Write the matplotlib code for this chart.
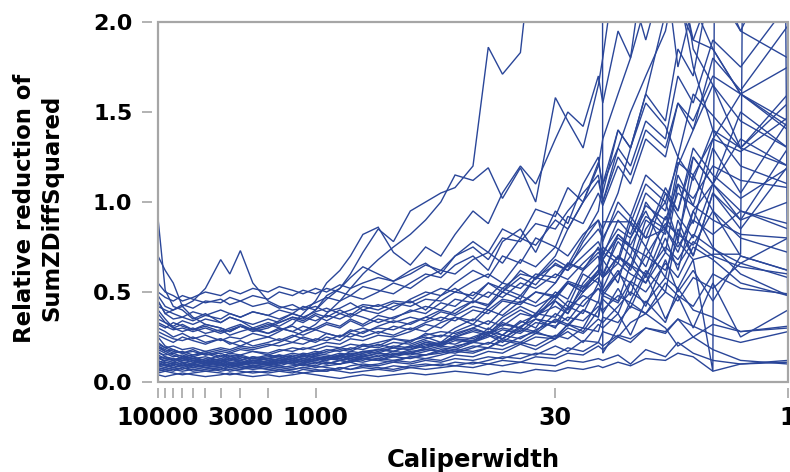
import matplotlib
matplotlib.use("Agg")
import matplotlib.pyplot as plt
from matplotlib.patches import Rectangle

caliperwidth = [10000, 9000, 8000, 7000, 6000, 5000, 4000, 3500, 3000, 2500, 2000,
                1700, 1400, 1200, 1000, 850, 700, 600, 500, 400, 320, 250,
                200, 160, 130, 100, 80, 65, 50, 40, 30, 25, 20,
                16, 15, 12, 10, 8, 6, 5, 4, 3, 2, 1]

major_ticks = [10000, 3000, 1000, 30, 1]
major_labels = ["10000", "3000", "1000", "30", "1"]
minor_ticks = [9000, 8000, 7000, 6000, 5000, 4000, 2000]
y_ticks = [0.0, 0.5, 1.0, 1.5, 2.0]

a01 = [0.12,0.10,0.09,0.11,0.08,0.09,0.10,0.08,0.09,0.11,0.10, 0.12,0.11,0.13,0.12,0.14,0.13,0.15,0.14,0.16,0.15,0.18, 0.20,0.22,0.21,0.25,0.28,0.24,0.31,0.35,0.30,0.42,0.38, 0.55,0.50,0.62,0.48,0.75,0.58,0.90,0.70,1.05,0.85,1.20]
a02 = [0.08,0.07,0.06,0.08,0.07,0.06,0.07,0.09,0.08,0.07,0.08, 0.09,0.08,0.10,0.09,0.11,0.10,0.12,0.11,0.13,0.12,0.14, 0.15,0.17,0.16,0.19,0.22,0.20,0.25,0.28,0.24,0.32,0.30, 0.45,0.38,0.52,0.41,0.60,0.35,0.48,0.30,0.55,0.25,0.40]
a03 = [0.15,0.13,0.12,0.14,0.12,0.11,0.13,0.12,0.14,0.13,0.15, 0.14,0.16,0.15,0.17,0.16,0.18,0.17,0.20,0.19,0.22,0.21, 0.24,0.26,0.25,0.29,0.27,0.33,0.30,0.38,0.45,0.40,0.52, 0.60,0.68,0.55,0.80,0.95,0.72,1.10,0.88,1.30,1.05,1.45]
a04 = [0.05,0.06,0.05,0.04,0.05,0.06,0.05,0.04,0.05,0.06,0.05, 0.06,0.05,0.07,0.06,0.06,0.08,0.07,0.08,0.07,0.09,0.08, 0.09,0.10,0.09,0.11,0.10,0.12,0.11,0.14,0.13,0.16,0.15, 0.20,0.18,0.25,0.22,0.30,0.28,0.35,0.25,0.18,0.12,0.10]
a05 = [0.18,0.16,0.14,0.15,0.13,0.14,0.12,0.13,0.11,0.12,0.13, 0.12,0.14,0.13,0.15,0.14,0.16,0.15,0.17,0.18,0.17,0.20, 0.19,0.22,0.24,0.23,0.27,0.30,0.28,0.35,0.33,0.41,0.48, 0.44,0.58,0.70,0.62,0.85,1.00,0.78,1.25,1.10,1.50,1.30]
a06 = [0.10,0.09,0.11,0.10,0.12,0.10,0.11,0.09,0.10,0.12,0.11, 0.10,0.12,0.11,0.10,0.13,0.12,0.14,0.13,0.12,0.15,0.16, 0.18,0.17,0.20,0.22,0.21,0.26,0.24,0.29,0.34,0.31,0.40, 0.36,0.50,0.45,0.65,0.55,0.80,0.62,0.95,0.75,0.60,0.48]
a07 = [0.22,0.19,0.17,0.16,0.18,0.15,0.16,0.14,0.15,0.13,0.14, 0.15,0.13,0.14,0.16,0.15,0.14,0.17,0.16,0.18,0.20,0.19, 0.22,0.21,0.25,0.24,0.28,0.26,0.33,0.37,0.42,0.38,0.50, 0.58,0.52,0.70,0.64,0.90,0.82,1.15,0.98,1.35,1.60,1.42]
a08 = [0.07,0.08,0.07,0.06,0.07,0.08,0.06,0.07,0.06,0.05,0.06, 0.07,0.06,0.05,0.06,0.07,0.06,0.05,0.06,0.07,0.06,0.08, 0.07,0.08,0.09,0.08,0.10,0.09,0.11,0.10,0.09,0.12,0.11, 0.13,0.12,0.15,0.10,0.18,0.14,0.22,0.16,0.12,0.10,0.11]
a09 = [0.13,0.12,0.11,0.13,0.14,0.12,0.15,0.13,0.12,0.14,0.12, 0.11,0.13,0.12,0.14,0.13,0.15,0.12,0.14,0.16,0.15,0.17, 0.18,0.20,0.19,0.23,0.26,0.22,0.29,0.27,0.35,0.32,0.28, 0.40,0.46,0.38,0.55,0.42,0.68,0.50,0.62,0.45,0.70,0.62]
a10 = [0.25,0.20,0.18,0.16,0.14,0.16,0.13,0.15,0.14,0.12,0.13, 0.14,0.12,0.15,0.13,0.14,0.12,0.13,0.15,0.14,0.17,0.16, 0.19,0.21,0.24,0.22,0.30,0.26,0.34,0.30,0.45,0.38,0.55, 0.65,0.60,0.78,0.70,1.00,0.85,1.20,1.40,1.65,1.30,1.55]
a11 = [0.09,0.10,0.08,0.09,0.10,0.09,0.08,0.10,0.09,0.08,0.09, 0.08,0.09,0.10,0.08,0.09,0.10,0.11,0.09,0.10,0.12,0.11, 0.13,0.12,0.15,0.14,0.17,0.16,0.21,0.18,0.24,0.28,0.22, 0.32,0.30,0.38,0.26,0.45,0.33,0.52,0.40,0.36,0.28,0.31]
a12 = [0.16,0.15,0.16,0.14,0.15,0.17,0.14,0.16,0.15,0.17,0.16, 0.18,0.17,0.19,0.18,0.20,0.19,0.21,0.20,0.22,0.24,0.23, 0.26,0.28,0.27,0.30,0.34,0.31,0.38,0.36,0.48,0.42,0.60, 0.55,0.72,0.66,0.88,0.75,1.05,0.92,0.80,1.10,0.95,0.85]
a13 = [0.04,0.03,0.04,0.05,0.04,0.03,0.04,0.05,0.04,0.03,0.04, 0.03,0.04,0.05,0.04,0.03,0.02,0.03,0.04,0.03,0.04,0.05, 0.04,0.05,0.06,0.05,0.04,0.06,0.05,0.07,0.06,0.08,0.07, 0.09,0.08,0.11,0.09,0.13,0.12,0.16,0.14,0.06,0.10,0.12]
a14 = [0.20,0.17,0.15,0.13,0.12,0.11,0.12,0.10,0.11,0.09,0.10, 0.11,0.10,0.12,0.11,0.10,0.12,0.11,0.13,0.12,0.14,0.13, 0.15,0.16,0.18,0.17,0.19,0.23,0.21,0.25,0.24,0.30,0.27, 0.35,0.33,0.42,0.50,0.44,0.58,0.52,0.68,0.06,40.0,0.15]
a15 = [0.11,0.12,0.13,0.11,0.10,0.12,0.11,0.13,0.12,0.10,0.12, 0.13,0.15,0.14,0.16,0.18,0.17,0.19,0.18,0.21,0.19,0.23, 0.25,0.22,0.28,0.32,0.29,0.36,0.42,0.38,0.50,0.46,0.62, 0.70,0.58,0.82,0.75,0.64,0.92,0.80,1.15,0.95,0.70,0.62]
a16 = [0.06,0.07,0.08,0.07,0.09,0.08,0.07,0.08,0.07,0.09,0.07, 0.08,0.07,0.08,0.09,0.08,0.07,0.09,0.10,0.09,0.11,0.10, 0.12,0.11,0.13,0.12,0.14,0.13,0.16,0.15,0.20,0.17,0.23, 0.22,0.28,0.25,0.33,0.38,0.30,0.20,0.25,0.32,0.28,0.30]
a17 = [0.14,0.11,0.10,0.09,0.10,0.08,0.09,0.10,0.08,0.09,0.10, 0.09,0.11,0.10,0.12,0.11,0.10,0.12,0.14,0.13,0.16,0.15, 0.17,0.19,0.18,0.22,0.26,0.24,0.30,0.28,0.38,0.34,0.45, 0.52,0.48,0.60,0.70,0.58,0.85,0.72,0.95,1.10,0.90,1.00]
a18 = [0.17,0.14,0.13,0.12,0.13,0.11,0.10,0.12,0.11,0.10,0.11, 0.13,0.12,0.11,0.13,0.12,0.14,0.13,0.12,0.15,0.14,0.16, 0.15,0.18,0.17,0.20,0.19,0.24,0.22,0.27,0.25,0.32,0.40, 0.36,0.48,0.44,0.56,0.50,0.66,0.58,0.75,0.68,0.55,0.48]
a19 = [0.09,0.08,0.10,0.09,0.08,0.10,0.09,0.11,0.10,0.09,0.10, 0.11,0.10,0.09,0.11,0.10,0.12,0.11,0.13,0.12,0.11,0.14, 0.13,0.15,0.17,0.16,0.19,0.18,0.22,0.20,0.26,0.24,0.30, 0.28,0.36,0.33,0.42,0.38,0.50,0.45,0.58,0.52,0.66,0.80]
a20 = [0.11,0.09,0.08,0.10,0.09,0.11,0.10,0.08,0.10,0.11,0.09, 0.10,0.12,0.11,0.13,0.12,0.15,0.14,0.16,0.18,0.17,0.20, 0.23,0.21,0.26,0.30,0.27,0.34,0.40,0.36,0.46,0.55,0.50, 0.62,0.75,0.68,0.92,0.80,1.08,0.95,1.30,1.15,1.02,1.19]
a21 = [0.13,0.14,0.12,0.13,0.11,0.13,0.12,0.14,0.13,0.11,0.13, 0.12,0.13,0.15,0.14,0.13,0.15,0.16,0.15,0.17,0.19,0.18, 0.21,0.20,0.23,0.22,0.25,0.29,0.27,0.33,0.31,0.36,0.34, 0.42,0.40,0.48,0.44,0.38,0.55,0.48,0.42,0.60,0.52,0.49]
a22 = [0.07,0.06,0.07,0.08,0.06,0.07,0.08,0.06,0.07,0.08,0.07, 0.06,0.07,0.08,0.07,0.06,0.08,0.07,0.09,0.08,0.07,0.09, 0.10,0.09,0.11,0.10,0.12,0.14,0.13,0.16,0.15,0.19,0.17, 0.22,0.20,0.26,0.24,0.30,0.27,0.35,0.31,0.26,0.22,0.28]

b01 = [0.48,0.42,0.40,0.43,0.41,0.45,0.44,0.47,0.45,0.48,0.46, 0.50,0.48,0.51,0.49,0.52,0.50,0.48,0.53,0.51,0.49,0.55, 0.60,0.58,0.65,0.70,0.62,0.78,0.85,0.72,0.95,0.88,1.10, 1.25,1.05,1.40,1.30,1.60,1.45,1.85,1.70,2.30,1.95,2.50]
b02 = [0.45,0.38,0.35,0.36,0.34,0.37,0.35,0.38,0.36,0.39,0.37, 0.40,0.38,0.36,0.39,0.41,0.38,0.40,0.43,0.42,0.45,0.44, 0.48,0.52,0.50,0.56,0.60,0.55,0.68,0.64,0.75,0.70,0.82, 0.90,0.78,1.00,0.92,1.15,1.05,0.95,1.25,1.10,1.35,1.20]
b03 = [0.40,0.35,0.30,0.28,0.30,0.27,0.29,0.26,0.28,0.30,0.27, 0.29,0.31,0.28,0.30,0.33,0.31,0.35,0.32,0.37,0.35,0.40, 0.38,0.44,0.42,0.50,0.47,0.55,0.52,0.60,0.58,0.66,0.63, 0.72,0.68,0.80,0.75,0.70,0.88,0.82,0.76,0.95,0.80,0.72]
b04 = [0.50,0.47,0.45,0.48,0.46,0.44,0.46,0.43,0.45,0.42,0.44, 0.41,0.43,0.40,0.42,0.39,0.41,0.44,0.40,0.38,0.42,0.45, 0.40,0.48,0.52,0.46,0.55,0.50,0.62,0.57,0.68,0.64,0.75, 0.85,0.80,0.95,0.88,1.10,1.00,1.22,1.15,1.35,1.28,1.47]
b05 = [0.30,0.28,0.25,0.27,0.24,0.26,0.23,0.25,0.24,0.27,0.25, 0.23,0.26,0.24,0.22,0.25,0.23,0.27,0.25,0.28,0.26,0.30, 0.28,0.33,0.36,0.32,0.40,0.37,0.45,0.42,0.48,0.55,0.50, 0.62,0.58,0.70,0.65,0.60,0.75,0.68,0.82,0.74,0.66,0.58]
b06 = [0.35,0.33,0.31,0.34,0.32,0.35,0.33,0.36,0.34,0.32,0.35, 0.33,0.36,0.34,0.38,0.36,0.40,0.37,0.42,0.40,0.44,0.42, 0.46,0.45,0.50,0.48,0.55,0.52,0.60,0.58,0.65,0.62,0.70, 0.78,0.72,0.85,0.80,0.98,0.90,1.10,1.02,1.20,1.12,1.08]
b07 = [0.28,0.26,0.24,0.23,0.25,0.22,0.24,0.21,0.23,0.20,0.22, 0.24,0.22,0.25,0.23,0.27,0.25,0.29,0.27,0.31,0.34,0.32, 0.36,0.40,0.38,0.45,0.43,0.52,0.48,0.58,0.55,0.66,0.62, 0.75,0.70,0.90,0.82,1.05,0.95,1.25,1.12,1.40,1.30,1.60]
b08 = [0.42,0.40,0.38,0.36,0.39,0.37,0.40,0.38,0.36,0.39,0.37, 0.35,0.38,0.36,0.34,0.37,0.35,0.38,0.36,0.33,0.36,0.39, 0.42,0.40,0.46,0.44,0.50,0.47,0.55,0.52,0.60,0.57,0.66, 0.74,0.68,0.82,0.76,0.92,0.85,1.05,0.98,0.90,0.82,0.80]
b09 = [0.55,0.50,0.48,0.45,0.47,0.50,0.48,0.51,0.49,0.52,0.50, 0.53,0.51,0.49,0.52,0.50,0.54,0.52,0.55,0.58,0.56,0.60, 0.65,0.62,0.70,0.75,0.68,0.80,0.78,0.88,0.85,0.95,1.05, 1.15,1.00,1.30,1.20,1.45,1.35,1.70,1.55,1.90,1.75,2.10]
b10 = [0.32,0.30,0.33,0.31,0.29,0.32,0.30,0.28,0.31,0.29,0.32, 0.30,0.28,0.31,0.29,0.32,0.30,0.34,0.31,0.35,0.33,0.36, 0.34,0.39,0.37,0.42,0.40,0.46,0.44,0.50,0.47,0.55,0.52, 0.60,0.89,0.89,0.89,0.80,0.85,0.75,0.90,0.82,0.95,0.88]

c01 = [0.91,0.51,0.42,0.40,0.35,0.38,0.33,0.36,0.34,0.30,0.33, 0.31,0.35,0.33,0.37,0.34,0.38,0.36,0.40,0.43,0.40,0.46, 0.50,0.48,0.55,0.62,0.58,0.70,0.66,0.80,0.75,0.92,0.88, 1.05,0.98,1.20,1.10,1.35,1.25,1.55,1.40,1.80,1.62,1.98]
c02 = [0.70,0.62,0.55,0.42,0.36,0.32,0.30,0.28,0.31,0.29,0.27, 0.30,0.28,0.26,0.29,0.27,0.25,0.28,0.30,0.27,0.31,0.29, 0.33,0.36,0.34,0.40,0.38,0.45,0.43,0.50,0.48,0.56,0.53, 0.62,0.58,0.66,0.60,0.55,0.72,0.65,0.78,0.70,0.64,0.60]
c03 = [0.45,0.38,0.40,0.42,0.45,0.52,0.68,0.60,0.73,0.55,0.45, 0.42,0.40,0.41,0.44,0.47,0.45,0.48,0.46,0.50,0.55,0.52, 0.58,0.62,0.60,0.68,0.72,0.66,0.80,0.76,0.90,0.85,1.00, 1.12,1.00,1.25,1.15,1.40,1.30,1.55,1.45,1.70,1.60,1.75]
c04 = [0.38,0.33,0.30,0.32,0.29,0.31,0.28,0.30,0.32,0.29,0.31, 0.34,0.38,0.42,0.40,0.48,0.52,0.60,0.72,0.85,0.78,0.95, 1.00,1.05,1.08,1.20,1.86,1.71,1.83,2.60,3.20,3.50,3.00, 40.0,0.16,0.30,0.45,0.62,0.50,0.85,0.70,1.05,0.90,1.30]
c05 = [0.20,0.18,0.16,0.17,0.15,0.16,0.18,0.17,0.19,0.18,0.20, 0.22,0.25,0.28,0.32,0.38,0.45,0.52,0.60,0.68,0.75,0.82, 0.90,1.00,1.15,1.12,1.19,1.02,1.19,1.00,1.58,1.45,1.30, 1.65,1.80,2.40,2.20,1.90,2.30,1.75,2.10,1.85,1.60,1.40]
c06 = [0.14,0.13,0.12,0.14,0.13,0.12,0.11,0.13,0.12,0.14,0.13, 0.15,0.14,0.16,0.15,0.17,0.19,0.18,0.21,0.20,0.24,0.22, 0.27,0.25,0.30,0.35,0.32,0.40,0.48,0.44,0.55,0.65,0.80, 0.95,1.10,1.30,1.50,1.70,1.95,2.30,1.90,1.85,1.60,1.45]
c07 = [0.19,0.17,0.18,0.16,0.17,0.15,0.17,0.16,0.18,0.17,0.15, 0.17,0.19,0.18,0.20,0.22,0.21,0.24,0.23,0.26,0.25,0.28, 0.32,0.30,0.36,0.34,0.42,0.50,0.46,0.58,0.70,0.85,1.00, 1.20,1.35,1.60,1.80,2.10,2.60,2.20,1.75,1.40,1.20,1.10]
c08 = [0.10,0.11,0.10,0.12,0.11,0.10,0.12,0.11,0.10,0.12,0.11, 0.12,0.11,0.13,0.12,0.14,0.13,0.15,0.17,0.16,0.19,0.18, 0.22,0.20,0.25,0.28,0.26,0.32,0.30,0.38,0.36,0.45,0.42, 0.52,0.50,0.60,0.55,0.70,0.62,0.78,0.68,0.71,0.71,40.0]
c09 = [0.26,0.24,0.22,0.25,0.23,0.21,0.24,0.22,0.20,0.23,0.25, 0.28,0.32,0.38,0.45,0.55,0.62,0.70,0.82,0.86,0.72,0.65, 0.75,0.70,0.82,0.95,0.88,1.05,1.20,1.10,1.35,1.50,1.42, 1.70,1.55,1.95,1.80,2.40,2.80,2.10,1.90,2.20,1.95,1.80]
c10 = [0.33,0.31,0.29,0.30,0.28,0.30,0.27,0.29,0.31,0.28,0.30, 0.33,0.36,0.35,0.40,0.46,0.52,0.58,0.64,0.60,0.56,0.62, 0.66,0.60,0.70,0.78,0.72,0.85,0.80,0.96,0.92,1.08,1.00, 1.22,1.10,1.40,1.30,1.55,1.42,1.25,1.60,1.48,1.30,1.20]
c11 = [0.21,0.19,0.20,0.18,0.19,0.17,0.19,0.18,0.20,0.19,0.21, 0.20,0.22,0.21,0.24,0.23,0.26,0.25,0.28,0.30,0.29,0.33, 0.36,0.34,0.40,0.45,0.42,0.50,0.58,0.54,0.66,0.62,0.78, 0.90,0.85,1.05,1.30,1.60,2.05,2.40,1.85,1.65,1.45,1.30]

series = [a01, a02, a03, a04, a05, a06, a07, a08, a09, a10, a11, a12, a13, a14,
          a15, a16, a17, a18, a19, a20, a21, a22,
          b01, b02, b03, b04, b05, b06, b07, b08, b09, b10,
          c01, c02, c03, c04, c05, c06, c07, c08, c09, c10, c11]

line_color = "#2a4699"
gray = "#a6a6a6"

fig = plt.figure(figsize=(7.9, 4.72), dpi=100)
ax = fig.add_axes([158 / 790, 1 - 382 / 472, 630 / 790, 360 / 472])

for s in series:
    ax.plot(caliperwidth, s, color=line_color, lw=1.0, solid_joinstyle="miter")

ax.set_xscale("log")
ax.set_xlim(10000, 1)
ax.set_ylim(0, 2.0)

ax.set_xticks(major_ticks)
ax.set_xticklabels(major_labels)
ax.set_xticks(minor_ticks, minor=True)
ax.set_xticklabels([], minor=True)
ax.set_yticks(y_ticks)
ax.set_yticklabels([f"{v:.1f}" for v in y_ticks])

for name in ["top", "right"]:
    ax.spines[name].set_visible(False)
for name in ["bottom", "left"]:
    ax.spines[name].set_position(("outward", 4))
    ax.spines[name].set_visible(False)

ax.tick_params(axis="both", which="both", color=gray, width=1.2, direction="out")
ax.tick_params(axis="x", which="major", length=7.5, pad=6, labelsize=17)
ax.tick_params(axis="x", which="minor", length=7.5)
ax.tick_params(axis="y", which="major", length=7.5, pad=7, labelsize=16)
for lab in ax.get_xticklabels() + ax.get_yticklabels():
    lab.set_fontweight("bold")

ax.add_patch(Rectangle((0, 0), 1, 1, transform=ax.transAxes, fill=False,
                       edgecolor=gray, lw=1.6, clip_on=False, zorder=5))

ax.set_xlabel("Caliperwidth", fontsize=17.5, fontweight="bold")
ax.xaxis.set_label_coords(0.5, -0.183)
ax.set_ylabel("Relative reduction of\nSumZDiffSquared", fontsize=16.4,
              fontweight="bold", linespacing=1.27)
ax.yaxis.set_label_coords(-0.150, 0.483)

fig.savefig("out.png", dpi=100)
